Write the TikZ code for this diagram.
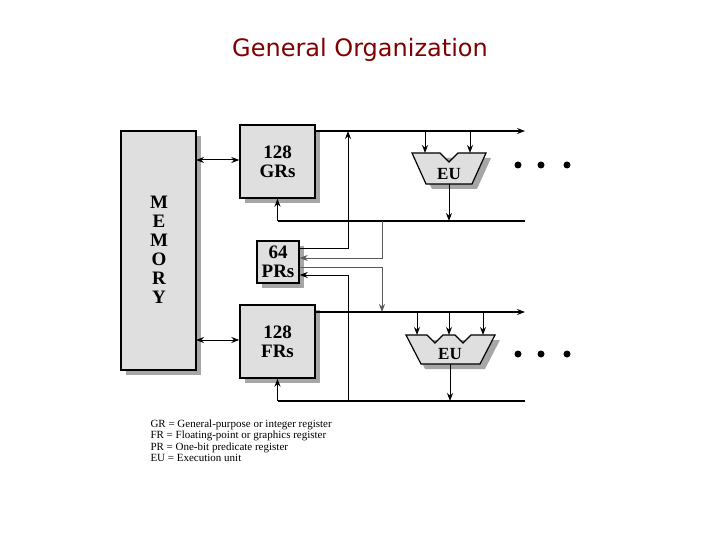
\documentclass[tikz,border=0pt]{standalone}
\usepackage{fontspec}
\setmainfont{Liberation Serif}
\newfontfamily\titlefont{DejaVu Sans}
\usetikzlibrary{arrows.meta}
\begin{document}
\begin{tikzpicture}[x=1pt,y=-1pt,line width=1pt,>={Stealth[length=8pt,width=6pt]}]
  \tikzset{
    regbox/.style={draw, line width=1.4pt, fill=gray!25, minimum width=75pt, minimum height=73pt, inner sep=0pt, align=center, font=\bfseries\fontsize{19}{19}\selectfont},
    shadow/.style={fill=gray!70, draw=none},
    bus/.style={line width=1.2pt},
    thin bus/.style={line width=0.7pt, draw=gray!70!black},
    eu/.style={line width=1.2pt, fill=gray!25},
  }
  \useasboundingbox (0,0) rectangle (720,540);

  \node[text=red!50!black, font=\titlefont\fontsize{24}{24}\selectfont] (title) at (360,50) {General Organization};

  % memory
  \fill[shadow] (126,136) rectangle (201,375);
  \draw[line width=1.4pt, fill=gray!25] (121,131) rectangle (196,370);
  \node[font=\bfseries\fontsize{19}{19}\selectfont, align=center] (mem) at (159,250) {M\\E\\M\\O\\R\\Y};
  \coordinate (memE1) at (196,160);
  \coordinate (memE2) at (196,340);

  % registers
  \fill[shadow] (245,130) rectangle (320,203);
  \node[regbox] (gr) at (277.5,161.5) {128\\GRs};
  \fill[shadow] (262,246) rectangle (304,288);
  \node[regbox, minimum width=42pt, minimum height=42pt] (pr) at (278,262) {64\\PRs};
  \fill[shadow] (245,310) rectangle (320,383);
  \node[regbox] (fr) at (277.5,341.5) {128\\FRs};

  \draw[<->] (memE1) -- (gr.west |- memE1);
  \draw[<->] (memE2) -- (fr.west |- memE2);

  % execution units
  \fill[shadow] (417,158) -- (491,158) -- (477,189) -- (432,189) -- cycle;
  \draw[eu] (412,153) -- (440,153) -- (449,162) -- (458,153) -- (486,153) -- (472,184) -- (426,184) -- cycle;
  \node[font=\bfseries\fontsize{17}{17}\selectfont] (eu1) at (449,174) {EU};
  \fill[shadow] (411,340) -- (500,340) -- (485,369) -- (425,369) -- cycle;
  \draw[eu] (406,335) -- (427,335) -- (435,343) -- (443,335) -- (455,335) -- (463,343) -- (471,335) -- (495,335) -- (480,364) -- (421,364) -- cycle;
  \node[font=\bfseries\fontsize{17}{17}\selectfont] (eu2) at (450,354) {EU};

  % buses
  \coordinate (gbusE) at (525,131);
  \coordinate (gfbE) at (525,221);
  \coordinate (fbusE) at (525,312);
  \coordinate (ffbE) at (525,401);
  \draw[bus,->] (gr.east |- gbusE) -- (gbusE);
  \draw[bus] (gr.south |- gfbE) -- (gfbE);
  \draw[bus,->] (gr.south |- gfbE) -- (gr.south);
  \draw[bus,->] (fr.east |- fbusE) -- (fbusE);
  \draw[bus] (fr.south |- ffbE) -- (ffbE);
  \draw[bus,->] (fr.south |- ffbE) -- (fr.south);
  \foreach \x in {425,470} \draw[->] (\x,131) -- (\x,153);
  \draw[->] (449,184) -- (449,221);
  \foreach \x in {417,449,483} \draw[->] (\x,312) -- (\x,335);
  \draw[->] (450,364) -- (450,401);

  % predicate paths
  \draw[->] (pr.east |- 0,248) -- (348,248) -- (348,131);
  \draw[thin bus,->] (382,221) -- (382,258) -- (pr.east |- 0,258);
  \draw[thin bus,->] (pr.east |- 0,267) -- (382,267) -- (382,312);
  \draw[->] (348,401) -- (348,275) -- (pr.east |- 0,275);

  % dots
  \foreach \x in {518,541,567} {
    \fill (\x,165) circle (3.5pt);
    \fill (\x,354) circle (3.5pt);
  }

  % legend
  \node[anchor=north west, align=left, font=\fontsize{11}{11.5}\selectfont, inner sep=0pt] (legend) at (150,419)
    {GR = General-purpose or integer register\\FR = Floating-point or graphics register\\PR = One-bit predicate register\\EU = Execution unit};
\end{tikzpicture}
\end{document}
